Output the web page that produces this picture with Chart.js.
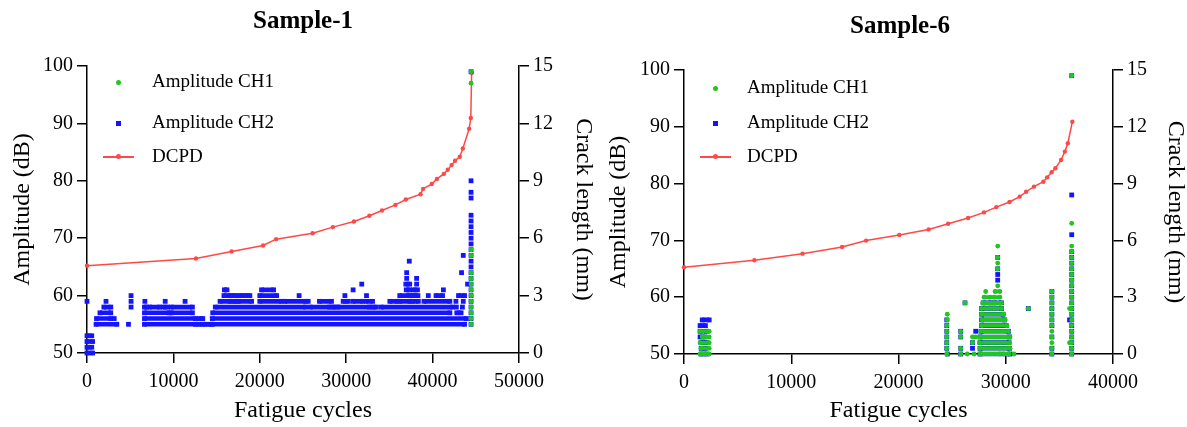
<!DOCTYPE html>
<html lang="en">
<head>
<meta charset="UTF-8">
<title>Amplitude and crack length vs fatigue cycles</title>
<script src="https://cdn.jsdelivr.net/npm/chart.js"></script>
<style>
  body {
    margin: 0;
    width: 1187px;
    height: 427px;
    overflow: hidden;
    background: #fff;
    position: relative;
    font-family: "Liberation Serif", "Times New Roman", serif;
  }
  canvas { position: absolute; top: 0; }
  #c1 { left: 6px; }
  #c2 { left: 600px; }
  .leg { position: absolute; font-size: 19px; line-height: 20px; color: #000; white-space: nowrap; }
  .mk { position: absolute; }
  .dot { width: 5px; height: 5px; border-radius: 50%; background: #1ec81e; }
  .sq { width: 5px; height: 5px; background: #1414ff; }
  .ln { width: 31px; height: 1.5px; background: #ff4848; }
  .rd { width: 5px; height: 5px; border-radius: 50%; background: #ff4848; }
</style>
</head>
<body>
<canvas id="c1" width="594" height="427"></canvas>
<canvas id="c2" width="600" height="427"></canvas>

<!-- legends, sample-1 -->
<div class="mk dot" style="left:116px;top:80px"></div>
<div class="leg" style="left:152px;top:71px">Amplitude CH1</div>
<div class="mk sq" style="left:116px;top:121px"></div>
<div class="leg" style="left:152px;top:112px">Amplitude CH2</div>
<div class="mk ln" style="left:103px;top:156px"></div>
<div class="mk rd" style="left:116px;top:154px"></div>
<div class="leg" style="left:152px;top:146px">DCPD</div>

<!-- legends, sample-6 -->
<div class="mk dot" style="left:713px;top:86px"></div>
<div class="leg" style="left:747px;top:77px">Amplitude CH1</div>
<div class="mk sq" style="left:713px;top:121px"></div>
<div class="leg" style="left:747px;top:112px">Amplitude CH2</div>
<div class="mk ln" style="left:700px;top:156px"></div>
<div class="mk rd" style="left:713px;top:154px"></div>
<div class="leg" style="left:747px;top:146px">DCPD</div>

<script>
  // ---- Sample-1 ----
  // DCPD crack length (mm) vs fatigue cycles
  const s1CrackCycles = [0, 12610, 16740, 20380, 21890, 26110, 28460, 30900, 32680, 34140, 35700, 36900,
    38600, 38900, 39900, 40500, 41300, 41750, 42200, 42600, 43150, 43500, 44230, 44420, 44520];
  const s1CrackMm = [4.56, 4.94, 5.31, 5.62, 5.95, 6.26, 6.58, 6.87, 7.17, 7.45, 7.74, 8.02,
    8.30, 8.58, 8.83, 9.10, 9.36, 9.58, 9.82, 10.05, 10.26, 10.69, 11.72, 12.28, 14.65];

  // AE hits: [amplitude dB, first cycle, last cycle] (one value = single hit)
  const s1Ch2Runs = [
    [50, 0, 650], [51, 0, 550], [52, 0, 650], [53, 0, 550], [59, 0],
    [55, 1050, 3450], [56, 1100, 2750], [56, 3150], [57, 1500, 2750], [58, 1950, 2750], [59, 2200],
    [55, 4800], [58, 5100], [59, 5100], [60, 5100],
    [55, 6650, 12550], [56, 6650, 12550], [57, 6650, 9500], [57, 9750, 12200],
    [58, 6650, 6900], [58, 7250, 8400], [58, 8800, 9300], [58, 9750, 12200],
    [59, 6700], [59, 9050], [59, 11350],
    [55, 12900, 13400], [55, 13700, 14300], [56, 13000, 13400],
    [55, 14500, 43700], [56, 14500, 43900], [57, 14550, 42000], [57, 42800, 43300],
    [58, 14850, 25300], [58, 25850, 28100], [58, 28350, 28800], [58, 29050, 32700], [58, 33000, 33500],
    [58, 34050, 42300], [58, 42750], [58, 43450],
    [59, 15400, 16550], [59, 16800, 17300], [59, 17500, 19050], [59, 20000, 22500], [59, 22900, 25300],
    [59, 25600], [59, 26900, 28300], [59, 29650, 30250], [59, 30800, 31900], [59, 32300, 33050],
    [59, 35050, 35900], [59, 36200, 37350], [59, 37650, 38350], [59, 39000, 42000], [59, 42700], [59, 43550],
    [60, 15850, 16550], [60, 16800, 17250], [60, 17600, 18100], [60, 18400, 18850], [60, 20000, 21950],
    [60, 24550], [60, 29850], [60, 32350], [60, 36200, 37200], [60, 37450, 37700], [60, 37950, 38300],
    [60, 39500], [60, 40400, 41150], [60, 43000, 43700],
    [61, 15900, 16200], [61, 20200, 21600], [61, 30800], [61, 36950, 37350], [61, 37750, 38250], [61, 41250],
    [62, 31800], [62, 36900, 37350], [62, 38150], [62, 44050],
    [63, 37000], [63, 38150], [64, 37000], [64, 43350], [66, 37300], [67, 43550]
  ];
  // hits in the final column, just before fracture
  const s1ColumnX = 44450;
  const s1Ch1Column = [55, 56, 57, 58, 59, 60, 61, 62, 63, 64, 67, 68, 97, 99];
  const s1Ch2Column = [55, 56, 57, 58, 59, 60, 61, 62, 63, 64, 65, 66, 67, 68, 69, 70, 71, 72, 73, 74, 77, 78, 80, 99];

  // ---- Sample-6 ----
  const s6CrackCycles = [0, 6560, 11050, 14740, 16980, 20070, 22810, 24630, 26490, 27970, 29120, 30350,
    31300, 31900, 32630, 33510, 33860, 34280, 34630, 35160, 35510, 35790, 36210];
  const s6CrackMm = [4.58, 4.95, 5.30, 5.65, 5.99, 6.29, 6.58, 6.88, 7.18, 7.48, 7.76, 8.03,
    8.31, 8.57, 8.84, 9.10, 9.33, 9.60, 9.81, 10.25, 10.69, 11.13, 12.27];

  const s6Ch1Runs = [
    [50, 1500, 2350], [51, 1600, 2350], [52, 1500, 2350], [53, 1700, 2350], [54, 1500, 2350],
    [50, 24500], [51, 24500], [52, 24500], [53, 24500], [54, 24500], [55, 24500], [56, 24550], [57, 24550],
    [50, 25800], [51, 25800], [53, 25800], [54, 25800],
    [59, 26200], [50, 26400], [53, 26900], [53, 27150], [52, 26900], [50, 27050],
    [50, 27600, 29450], [50, 29800, 30300], [50, 30770],
    [51, 27600, 30400], [52, 27550, 30350], [53, 27550, 30400], [54, 27650, 30250], [55, 27750, 30100],
    [56, 27800, 29950], [57, 27750, 29800], [58, 27750, 29600], [59, 27850, 28700], [59, 28900, 29600],
    [60, 27980, 28550], [60, 28900, 29450], [61, 28130], [61, 29000, 29450],
    [62, 29250], [65, 29250], [66, 29250], [67, 29250], [69, 29250],
    [58, 32100], [58, 35950], [52, 35950]
  ];
  const s6Ch2Runs = [
    [56, 1700, 2350], [55, 1500, 2000], [54, 1500, 2100], [53, 1500, 1950], [52, 1600, 2100],
    [51, 1600, 2000], [50, 1600, 2100],
    [50, 24550], [51, 24500], [52, 24500], [53, 24500], [54, 24500], [55, 24500], [56, 24500],
    [50, 25800], [51, 25800], [53, 25800], [54, 25800],
    [59, 26200], [54, 27200], [52, 26900], [51, 26900],
    [50, 27600, 30400], [51, 27600, 30350], [52, 27600, 30300], [53, 27600, 30350], [54, 27700, 30250],
    [55, 27750, 30050], [56, 27750, 29900], [57, 27750, 29750], [58, 27750, 29600],
    [59, 27900, 28600], [59, 28900, 29600],
    [63, 29250], [64, 29250], [65, 29250], [67, 29250],
    [58, 32100], [56, 35950]
  ];
  const s6Column1X = 34300;
  const s6Ch1Column1 = [50, 51, 52, 53, 54, 55, 56, 57, 58, 59, 60, 61];
  const s6Ch2Column1 = [50, 51, 53, 55, 56, 57, 58, 59, 60, 61];
  const s6Column2X = 36150;
  const s6Ch1Column2 = [50, 51, 52, 53, 54, 55, 56, 57, 58, 59, 60, 61, 62, 63, 64, 65, 66, 67, 68, 69, 73, 99];
  const s6Ch2Column2 = [50, 51, 52, 53, 54, 55, 56, 57, 58, 59, 60, 61, 62, 63, 64, 65, 66, 67, 68, 71, 78, 99];

  const GREEN = '#1ec81e';
  const BLUE = '#1414ff';
  const RED = '#ff4848';

  Chart.defaults.font.family = '"Liberation Serif", "Times New Roman", serif';
  Chart.defaults.color = '#000';

  // a column of hits at one cycle count, as single-hit runs
  function column(x, levels) {
    return levels.map(v => [v, x]);
  }

  // each run becomes its two end points, then a gap so runs are not joined
  function runsToPoints(runs) {
    const pts = [];
    runs.forEach(r => {
      const y = r[0];
      const x1 = r[1];
      const x2 = r.length > 2 ? r[2] : r[1];
      pts.push({ x: x1, y: y });
      if (x2 !== x1) pts.push({ x: x2, y: y });
      pts.push({ x: x2, y: null });
    });
    return pts;
  }

  function tickAxis(extra) {
    return Object.assign({
      type: 'linear',
      grid: { drawOnChartArea: false, drawTicks: true, tickLength: 10, color: '#000', lineWidth: 1.5 },
      border: { color: '#000', width: 1.5 }
    }, extra);
  }

  function buildChart(id, cfg) {
    return new Chart(document.getElementById(id), {
      type: 'scatter',
      data: {
        datasets: [
          {
            label: 'Amplitude CH1',
            data: runsToPoints(cfg.ch1),
            showLine: true,
            spanGaps: false,
            borderColor: GREEN,
            borderWidth: 4,
            borderCapStyle: 'round',
            pointStyle: 'circle',
            pointRadius: 2.4,
            pointBackgroundColor: GREEN,
            pointBorderWidth: 0,
            yAxisID: 'y',
            clip: false
          },
          {
            label: 'Amplitude CH2',
            data: runsToPoints(cfg.ch2),
            showLine: true,
            spanGaps: false,
            borderColor: BLUE,
            borderWidth: 4.6,
            borderCapStyle: 'butt',
            pointStyle: 'rect',
            pointRadius: 3.4,
            pointBackgroundColor: BLUE,
            pointBorderWidth: 0,
            yAxisID: 'y',
            clip: false
          },
          {
            label: 'DCPD',
            data: cfg.crackX.map((x, i) => ({ x: x, y: cfg.crackY[i] })),
            showLine: true,
            borderColor: RED,
            borderWidth: 1.5,
            pointRadius: 2.2,
            pointBackgroundColor: RED,
            pointBorderWidth: 0,
            yAxisID: 'y2',
            clip: false
          }
        ]
      },
      options: {
        responsive: false,
        animation: false,
        devicePixelRatio: 1,
        events: [],
        layout: { padding: 0 },
        plugins: {
          legend: { display: false },
          tooltip: { enabled: false },
          title: {
            display: true,
            text: cfg.title,
            color: '#000',
            font: { size: 25, weight: 'bold' },
            padding: { top: cfg.titleTop, bottom: cfg.titleBottom }
          }
        },
        scales: {
          x: tickAxis({
            min: 0,
            max: cfg.xMax,
            ticks: { stepSize: 10000, font: { size: 20 }, color: '#000', padding: 7, maxRotation: 0, autoSkip: false,
              callback: v => String(v) },
            title: { display: true, text: 'Fatigue cycles', color: '#000', font: { size: 24 }, padding: { top: 0, bottom: 1.5 } },
            afterFit: s => { s.height = cfg.bottomH; }
          }),
          y: tickAxis({
            position: 'left',
            min: 50,
            max: 100,
            ticks: { stepSize: 10, font: { size: 20 }, color: '#000', padding: 4 },
            title: { display: true, text: 'Amplitude (dB)', color: '#000', font: { size: 24 }, padding: { top: cfg.yTitlePad, bottom: 0 } },
            afterFit: s => { s.width = cfg.leftW; }
          }),
          y2: tickAxis({
            position: 'right',
            min: 0,
            max: 15,
            ticks: { stepSize: 3, font: { size: 20 }, color: '#000', padding: 4 },
            title: { display: true, text: 'Crack length (mm)', color: '#000', font: { size: 24 }, padding: { top: cfg.y2TitlePad, bottom: 0 } },
            afterFit: s => { s.width = cfg.rightW; }
          })
        }
      }
    });
  }

  buildChart('c1', {
    title: 'Sample-1',
    titleTop: 6.5,
    titleBottom: 29.5,
    xMax: 50000,
    leftW: 81,
    rightW: 81,
    bottomH: 74,
    yTitlePad: 2,
    y2TitlePad: 2,
    ch1: column(s1ColumnX, s1Ch1Column),
    ch2: s1Ch2Runs.concat(column(s1ColumnX, s1Ch2Column)),
    crackX: s1CrackCycles,
    crackY: s1CrackMm
  });

  buildChart('c2', {
    title: 'Sample-6',
    titleTop: 11.5,
    titleBottom: 28.5,
    xMax: 40000,
    leftW: 84,
    rightW: 87,
    bottomH: 73,
    yTitlePad: 4.5,
    y2TitlePad: 10.5,
    ch1: s6Ch1Runs.concat(column(s6Column1X, s6Ch1Column1), column(s6Column2X, s6Ch1Column2)),
    ch2: s6Ch2Runs.concat(column(s6Column1X, s6Ch2Column1), column(s6Column2X, s6Ch2Column2)),
    crackX: s6CrackCycles,
    crackY: s6CrackMm
  });
</script>
</body>
</html>
